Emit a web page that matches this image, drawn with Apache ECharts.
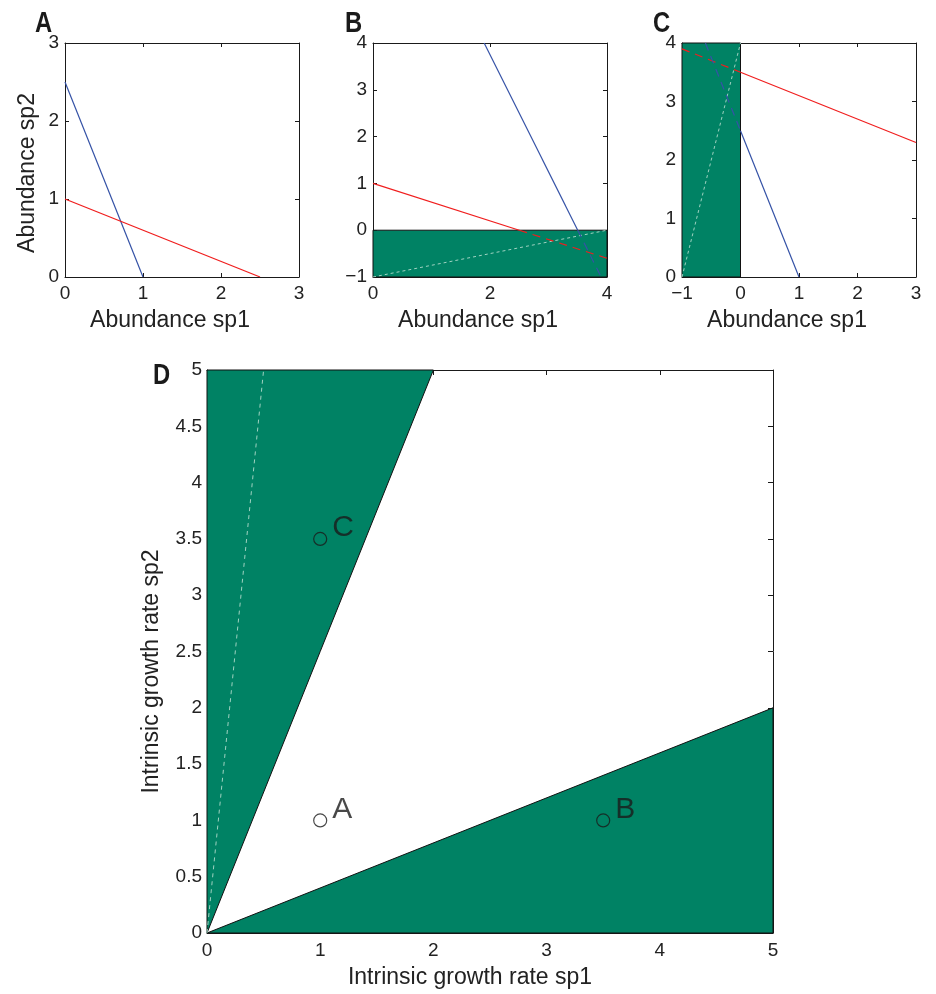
<!DOCTYPE html>
<html>
<head>
<meta charset="utf-8">
<script src="https://cdn.jsdelivr.net/npm/echarts@6/dist/echarts.min.js"></script>
<style>
html,body{margin:0;padding:0;background:#fff;}
#chart{width:936px;height:994px;}
</style>
</head>
<body>
<div id="chart"></div>
<script>
// ---------- data ----------
// Panel A
const ticksAx = [0, 1, 2, 3];
const ticksAy = [0, 1, 2, 3];
const aBlue = [[0, 2.5], [1, 0]];
const aRed = [[0, 1], [2.5, 0]];
// Panel B
const ticksBx = [0, 2, 4];
const ticksBy = [-1, 0, 1, 2, 3, 4];
const bGreen = [[0, -1], [4, -1], [4, 0], [0, 0]];
const bRedSolid = [[0, 1], [2.5, 0]];
const bRedDash = [[2.5, 0], [4, -0.6]];
const bBlueSolid = [[1.9, 4], [3.5, 0]];
const bBlueDash = [[3.5, 0], [3.9, -1]];
const bDiag = [[0, -1], [4, 0]];
// Panel C
const ticksCx = [-1, 0, 1, 2, 3];
const ticksCy = [0, 1, 2, 3, 4];
const cGreen = [[-1, 0], [0, 0], [0, 4], [-1, 4]];
const cRedSolid = [[0, 3.5], [3, 2.3]];
const cRedDash = [[-1, 3.9], [0, 3.5]];
const cBlueSolid = [[0, 2.5], [1, 0]];
const cBlueDash = [[-0.6, 4], [0, 2.5]];
const cDiag = [[-1, 0], [0, 4]];
// Panel D
const ticksDx = [0, 1, 2, 3, 4, 5];
const ticksDy = [0, 0.5, 1, 1.5, 2, 2.5, 3, 3.5, 4, 4.5, 5];
const dUpper = [[0, 0], [2, 5], [0, 5]];
const dLower = [[0, 0], [5, 2], [5, 0]];
const dDiag = [[0, 0], [0.5, 5]];
const dPoints = [[1, 1], [3.5, 1], [1, 3.5]];
const dPointLabels = ['A', 'B', 'C'];
const panelLabels = ['A', 'B', 'C', 'D'];

// ---------- style ----------
const FONT = "'Liberation Sans', Arial, sans-serif";
const GREEN = '#008264';
const RED = '#f01e1e';
const BLUE = '#3552a6';
const DIAG = '#9fd2c1';
const AXC = '#1a1a1a';

const grids = [
  {left: 65, top: 43, width: 234, height: 234},
  {left: 373, top: 43, width: 234, height: 234},
  {left: 682, top: 43, width: 234, height: 234},
  {left: 207, top: 370, width: 566, height: 566}
];

function fmt(v) { return String(v).replace('-', '\u2212'); }

const xAxes = [], yAxes = [];
function addAxes(g, xt, yt, xName, yName, conf) {
  const base = (t) => ({
    gridIndex: g, type: 'value',
    min: t[0], max: t[t.length - 1], interval: t[1] - t[0],
    axisLine: {show: true, onZero: false, lineStyle: {color: AXC, width: 1}},
    axisTick: {show: true, inside: true, length: conf.tick, lineStyle: {color: AXC, width: 1}},
    splitLine: {show: false}
  });
  xAxes.push(Object.assign(base(xt), {
    position: 'bottom',
    axisLabel: {margin: conf.xMargin, fontSize: 19, color: '#222', fontFamily: FONT, formatter: fmt},
    name: xName, nameLocation: 'middle', nameGap: conf.xGap,
    nameTextStyle: {fontSize: conf.nameSize, color: '#222', fontFamily: FONT, padding: [0, conf.shift, 0, 0]}
  }));
  xAxes.push(Object.assign(base(xt), {position: 'top', axisLabel: {show: false}}));
  yAxes.push(Object.assign(base(yt), {
    position: 'left',
    axisLabel: {margin: conf.yMargin, fontSize: 19, color: '#222', fontFamily: FONT, formatter: fmt},
    name: yName, nameLocation: 'middle', nameGap: conf.yGap,
    nameTextStyle: {fontSize: conf.nameSize, color: '#222', fontFamily: FONT, padding: [0, conf.yShift, 0, 0]}
  }));
  yAxes.push(Object.assign(base(yt), {position: 'right', axisLabel: {show: false}}));
}

const small = {tick: 4, xMargin: 7, yMargin: 6, xGap: 32, yGap: 26, nameSize: 23, shift: 24, yShift: 26};
addAxes(0, ticksAx, ticksAy, 'Abundance sp1', 'Abundance sp2', small);
addAxes(1, ticksBx, ticksBy, 'Abundance sp1', '', small);
addAxes(2, ticksCx, ticksCy, 'Abundance sp1', '', small);
addAxes(3, ticksDx, ticksDy, 'Intrinsic growth rate sp1', 'Intrinsic growth rate sp2',
  {tick: 5, xMargin: 8, yMargin: 5, xGap: 33, yGap: 44, nameSize: 23, shift: 40, yShift: 40});

const series = [];
function axIdx(g) { return {xAxisIndex: g * 2, yAxisIndex: g * 2}; }
function poly(g, pts) {
  series.push(Object.assign({
    type: 'custom', data: pts, z: 2, silent: true,
    renderItem: function (params, api) {
      if (params.dataIndex !== 0) return null;
      return {
        type: 'polygon',
        shape: {points: pts.map(p => api.coord(p))},
        style: {fill: GREEN, stroke: '#111', lineWidth: 1}
      };
    }
  }, axIdx(g)));
}
function line(g, pts, color, dash, width) {
  series.push(Object.assign({
    type: 'line', data: pts, showSymbol: false, symbol: 'none', z: 3, silent: true,
    lineStyle: {color: color, width: width || 1.2, type: dash || 'solid'}
  }, axIdx(g)));
}

// Panel A
line(0, aBlue, BLUE);
line(0, aRed, RED);
// Panel B
poly(1, bGreen);
line(1, bDiag, DIAG, [3, 3], 1);
line(1, bRedSolid, RED);
line(1, bRedDash, RED, [8, 6]);
line(1, bBlueSolid, BLUE);
line(1, bBlueDash, BLUE, [8, 6]);
// Panel C
poly(2, cGreen);
line(2, cDiag, DIAG, [3, 3], 1);
line(2, cRedSolid, RED);
line(2, cRedDash, RED, [8, 6]);
line(2, cBlueSolid, BLUE);
line(2, cBlueDash, BLUE, [8, 6]);
// Panel D
poly(3, dUpper);
poly(3, dLower);
line(3, dDiag, DIAG, [4, 4], 1);
series.push(Object.assign({
  type: 'scatter', data: dPoints, symbol: 'circle', symbolSize: 13, z: 5, silent: true,
  itemStyle: {color: 'rgba(0,0,0,0)', borderColor: '#1a1a1a', borderWidth: 1.2},
  label: {
    show: true, position: 'right', distance: 5, offset: [0, -11],
    fontSize: 30, color: '#1a1a1a', fontFamily: FONT,
    formatter: (p) => dPointLabels[p.dataIndex]
  }
}, axIdx(3)));

const labelPos = [[35, 24], [345, 24], [653, 24], [153, 376]];
const graphic = panelLabels.map((t, i) => ({
  type: 'text', x: labelPos[i][0], y: labelPos[i][1], scaleX: 0.82,
  style: {text: t, fontSize: 29, fontWeight: 'bold', fontFamily: FONT, fill: '#1a1a1a',
          align: 'left', verticalAlign: 'middle'}
}));

const chart = echarts.init(document.getElementById('chart'), null, {renderer: 'canvas'});
chart.setOption({
  animation: false,
  backgroundColor: '#fff',
  grid: grids.map(g => Object.assign({containLabel: false}, g)),
  xAxis: xAxes,
  yAxis: yAxes,
  series: series,
  graphic: graphic
});
</script>
</body>
</html>
